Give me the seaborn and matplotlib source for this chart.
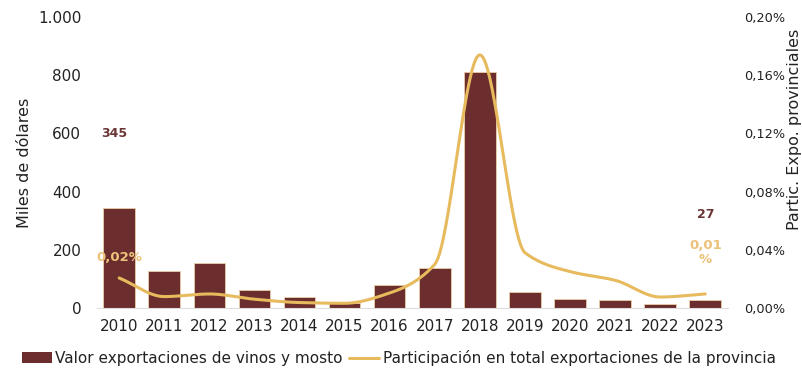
import numpy as np
import matplotlib
matplotlib.use("Agg")
import matplotlib.pyplot as plt
import seaborn as sns
from matplotlib.ticker import FuncFormatter
from matplotlib.lines import Line2D
from matplotlib.patches import Patch

years = ['2010', '2011', '2012', '2013', '2014', '2015', '2016',
         '2017', '2018', '2019', '2020', '2021', '2022', '2023']
# valor exportaciones de vinos y mosto (miles de dolares)
valor = [345, 127, 155, 62, 38, 17, 79, 138, 811, 54, 31, 28, 14, 27]
# participacion en total exportaciones de la provincia (%)
partic = [0.0206, 0.0078, 0.0096, 0.006, 0.0037, 0.0032, 0.0103,
          0.030, 0.174, 0.038, 0.025, 0.019, 0.0075, 0.0096]

BAR = '#6B2D2D'
GOLD = '#E8BA5E'


def smooth(ys, n=30):
    # monotone cubic through the points, close to the excel smoothed line
    ys = np.asarray(ys, float)
    d = np.diff(ys)
    m = np.zeros_like(ys)
    for k in range(1, len(ys) - 1):
        if d[k - 1] * d[k] > 0:
            m[k] = 2.0 / (1.0 / d[k - 1] + 1.0 / d[k])
    m[0], m[-1] = d[0], d[-1]
    t = np.linspace(0, 1, n)
    h00 = 2 * t**3 - 3 * t**2 + 1
    h10 = t**3 - 2 * t**2 + t
    h01 = -2 * t**3 + 3 * t**2
    h11 = t**3 - t**2
    outx, outy = [], []
    for k in range(len(ys) - 1):
        outx.extend(k + t)
        outy.extend(h00 * ys[k] + h10 * m[k] + h01 * ys[k + 1] + h11 * m[k + 1])
    return outx, outy


sns.set_theme(style='white')
plt.rcParams['font.family'] = ['DejaVu Sans']

fig = plt.figure(figsize=(8.02, 3.71), dpi=100)
ax = fig.add_axes([0.1205, 0.170, 0.787, 0.784])

sns.barplot(x=years, y=valor, color=BAR, ax=ax, width=0.7,
            edgecolor='#E9CFA8', linewidth=0.6, saturation=1)
ax.set_xlim(-0.5, 13.5)
ax.set_ylim(0, 1000)
ax.set_yticks([0, 200, 400, 600, 800, 1000])
ax.yaxis.set_major_formatter(FuncFormatter(lambda v, p: f'{int(v):,}'.replace(',', '.')))
ax.set_ylabel('Miles de dólares', fontsize=11.5, color='#222222', labelpad=4)
ax.tick_params(axis='both', length=0, labelsize=11, labelcolor='#222222')
ax.tick_params(axis='y', pad=11)
ax.tick_params(axis='x', pad=8)
for s in ['top', 'right', 'left']:
    ax.spines[s].set_visible(False)
ax.spines['bottom'].set_color('#DDDDDD')
ax.spines['bottom'].set_linewidth(0.8)

ax2 = ax.twinx()
sx, sy = smooth(partic)
sns.lineplot(x=sx, y=sy, ax=ax2, color=GOLD, linewidth=2.2, sort=False)
ax2.set_ylim(0, 0.20)
ax2.set_yticks([0, 0.04, 0.08, 0.12, 0.16, 0.20])
ax2.yaxis.set_major_formatter(FuncFormatter(lambda v, p: f'{v:.2f}%'.replace('.', ',')))
ax2.set_ylabel('')
ax2.tick_params(axis='y', length=0, labelsize=9.3, labelcolor='#222222', pad=12)
for s in ax2.spines.values():
    s.set_visible(False)
fig.text(795 / 802, 1 - 129 / 371, 'Partic. Expo. provinciales', rotation=90,
         ha='center', va='center', fontsize=11.5, color='#222222')

# data labels
ax.text(-0.1, 601, str(valor[0]), ha='center', va='center', fontsize=9,
        fontweight='bold', color='#6B3535')
ax.text(0, 172, f'{partic[0]:.2f}%'.replace('.', ','), ha='center', va='center',
        fontsize=9.5, fontweight='bold', color='#EBC27A')
ax.text(13, 320, str(valor[-1]), ha='center', va='center', fontsize=9,
        fontweight='bold', color='#6B3535')
ax.text(13, 192, f'{partic[-1]:.2f}'.replace('.', ',')[:4] + '\n%', ha='center',
        va='center', fontsize=9.5, fontweight='bold', color='#EBC27A',
        linespacing=1.1)

handles = [Patch(facecolor=BAR, edgecolor='none'),
           Line2D([0], [0], color=GOLD, linewidth=2.2)]
fig.legend(handles, ['Valor exportaciones de vinos y mosto',
                     'Participación en total exportaciones de la provincia'],
           loc='center', bbox_to_anchor=(0.497, 0.035), ncol=2, frameon=False,
           fontsize=11, handlelength=2.0, handletextpad=0.2, columnspacing=0.4,
           labelcolor='#222222')

fig.savefig('out.png', dpi=100)
